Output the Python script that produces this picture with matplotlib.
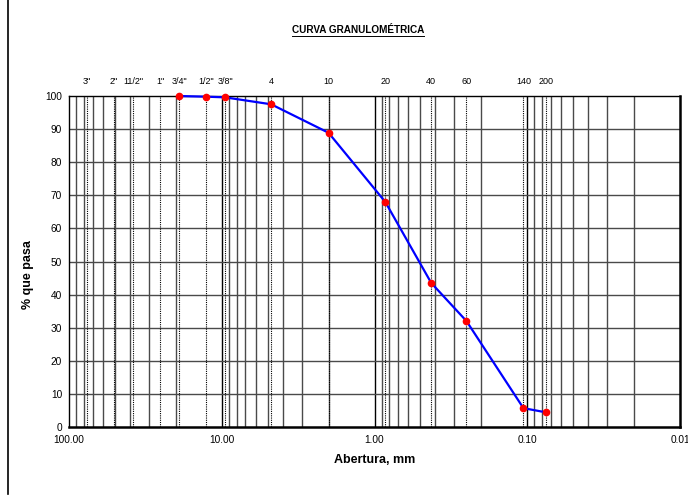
import numpy as np
import matplotlib.pyplot as plt
from matplotlib.lines import Line2D
from matplotlib.ticker import FixedLocator, FuncFormatter

plt.rcParams['font.family'] = ['Liberation Sans', 'DejaVu Sans']

# sieve openings (mm) and names
sieve_names = ['3"', '2"', '11/2"', '1"', '3/4"', '1/2"', '3/8"', '4', '10', '20', '40', '60', '140', '200']
sieve_mm = [76.2, 50.8, 38.1, 25.4, 19.05, 12.7, 9.525, 4.75, 2.0, 0.85, 0.425, 0.25, 0.106, 0.075]

# grading results
abertura = [19.05, 12.7, 9.525, 4.75, 2.0, 0.85, 0.425, 0.25, 0.106, 0.075]
pasa = [100.0, 99.8, 99.6, 97.5, 88.9, 68.0, 43.5, 32.0, 5.7, 4.4]

x_ticks = [100, 10, 1, 0.1, 0.01]
y_ticks = list(range(0, 101, 10))

fig = plt.figure(figsize=(6.88, 5.04), dpi=100)
ax = fig.add_axes([0.1003, 0.1528, 0.8881, 0.6567])

ax.set_xscale('log')
ax.set_xlim(100, 0.01)
ax.set_ylim(0, 100)

# log grid lines (1..9 per decade)
for dec in [10, 1, 0.1, 0.01]:
    for k in range(2, 10):
        ax.axvline(k * dec, color='#4a4a4a', lw=1.0, zorder=1)
for v in [10, 1, 0.1]:
    ax.axvline(v, color='black', lw=1.0, zorder=1)
for v in y_ticks[1:-1]:
    ax.axhline(v, color='#4a4a4a', lw=1.0, zorder=1)

# sieve lines and labels
for name, mm in zip(sieve_names, sieve_mm):
    ax.axvline(mm, color='black', lw=0.8, ls=(0, (1, 1)), zorder=2)
    ax.text(mm, 1.03, name, transform=ax.get_xaxis_transform(),
            ha='center', va='bottom', fontsize=6.5)

ax.plot(abertura, pasa, color='#0000ff', lw=1.6, marker='o', ms=4.5,
        mfc='red', mec='red', zorder=4, clip_on=False)

ax.xaxis.set_major_locator(FixedLocator(x_ticks))
ax.xaxis.set_minor_locator(FixedLocator([]))
ax.xaxis.set_major_formatter(FuncFormatter(lambda v, p: f'{v:.2f}'))
ax.set_yticks(y_ticks)
ax.tick_params(axis='both', length=0, labelsize=7.3, pad=5)
ax.tick_params(axis='x', pad=6)

for s in ['left', 'top']:
    ax.spines[s].set_linewidth(1.0)
for s in ['right', 'bottom']:
    ax.spines[s].set_linewidth(1.8)

ax.set_xlabel('Abertura, mm', fontsize=9, fontweight='bold', labelpad=6)
ax.set_ylabel('% que pasa', fontsize=9, fontweight='bold')
ax.yaxis.set_label_coords(-0.058, 0.46)

t = fig.text(0.52, 0.94, 'CURVA GRANULOMÉTRICA', ha='center', va='center',
             fontsize=7.2, fontweight='bold')
# underline under title
fig.canvas.draw()
bb = t.get_window_extent().transformed(fig.transFigure.inverted())
fig.add_artist(Line2D([bb.x0, bb.x1], [bb.y0 - 0.002, bb.y0 - 0.002],
                      color='black', lw=0.7, transform=fig.transFigure))

# page border line on the left
fig.add_artist(Line2D([8 / 688, 8 / 688], [1.0, 10 / 504], color='black', lw=1.2,
                      transform=fig.transFigure))

fig.savefig('out.png', dpi=100)
